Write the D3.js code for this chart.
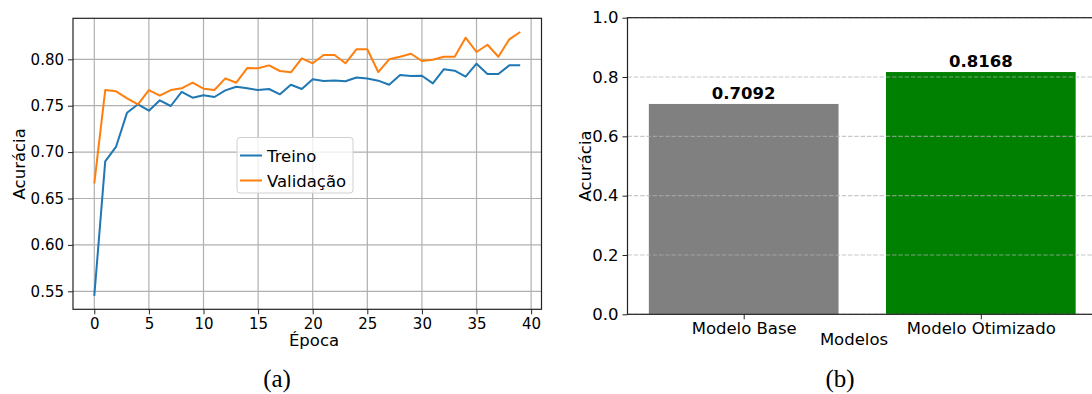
<!DOCTYPE html>
<html>
<head>
<meta charset="utf-8">
<title>Acurácia</title>
<script src="https://cdn.jsdelivr.net/npm/d3@7/dist/d3.min.js"></script>
<style>
  body { margin: 0; background: #fff; }
  svg { display: block; font-family: "DejaVu Sans", sans-serif; }
  .axis path, .axis line { stroke: #222; }
  .axis text { fill: #000; }
  .caption { font-family: "Liberation Serif", "DejaVu Serif", serif; }
</style>
</head>
<body>
<div id="graph"></div>
<script>
// ---- data ----
var epocas = d3.range(0, 40);
var treino = [0.545, 0.690, 0.706, 0.7425, 0.7515, 0.7446, 0.7558, 0.7497, 0.7648, 0.7586,
              0.7612, 0.7594, 0.7665, 0.7705, 0.7687, 0.7669, 0.768, 0.7623, 0.7726, 0.768,
              0.7786, 0.7766, 0.7772, 0.7763, 0.7804, 0.7793, 0.777, 0.7726, 0.7831, 0.782,
              0.7823, 0.7741, 0.7892, 0.7877, 0.7813, 0.7953, 0.7842, 0.7842, 0.7935, 0.7935];
var validacao = [0.6664, 0.7669, 0.7655, 0.758, 0.7515, 0.7669, 0.7608, 0.7669, 0.7687, 0.7748,
                 0.7683, 0.7669, 0.7795, 0.7748, 0.7906, 0.7903, 0.7935, 0.7874, 0.786, 0.8011,
                 0.7957, 0.8046, 0.8046, 0.7957, 0.8108, 0.8108, 0.7863, 0.80, 0.8028, 0.806,
                 0.7982, 0.7996, 0.8028, 0.8028, 0.8233, 0.8079, 0.8157, 0.8028, 0.8215, 0.8294];
var xTicksA = [0, 5, 10, 15, 20, 25, 30, 35, 40];
var yTicksA = [0.55, 0.60, 0.65, 0.70, 0.75, 0.80];

var modelos = ["Modelo Base", "Modelo Otimizado"];
var acuracias = [0.7092, 0.8168];
var cores = ["#808080", "#008000"];
var yTicksB = [0.0, 0.2, 0.4, 0.6, 0.8, 1.0];

var width = 1092, height = 394;

var vis = d3.select("#graph")
  .append("svg")
  .attr("width", width).attr("height", height);

// ================= (a) curves =================
var xa = d3.scaleLinear().domain([-1.95, 40.95]).range([73, 541.5]);
var ya = d3.scaleLinear().domain([0.5306, 0.8442]).range([309.3, 18.3]);

var ga = vis.append("g");

// grid
ga.selectAll("line.vg").data(xTicksA).enter().append("line")
  .attr("x1", function(d) { return xa(d); }).attr("x2", function(d) { return xa(d); })
  .attr("y1", ya.range()[0]).attr("y2", ya.range()[1])
  .attr("stroke", "#b0b0b0").attr("stroke-width", 1.2);
ga.selectAll("line.hg").data(yTicksA).enter().append("line")
  .attr("x1", xa.range()[0]).attr("x2", xa.range()[1])
  .attr("y1", function(d) { return ya(d); }).attr("y2", function(d) { return ya(d); })
  .attr("stroke", "#b0b0b0").attr("stroke-width", 1.2);

var linha = d3.line()
  .x(function(d, i) { return xa(epocas[i]); })
  .y(function(d) { return ya(d); });

ga.append("path").datum(treino)
  .attr("d", linha).attr("fill", "none")
  .attr("stroke", "#1f77b4").attr("stroke-width", 2).attr("stroke-linejoin", "round");
ga.append("path").datum(validacao)
  .attr("d", linha).attr("fill", "none")
  .attr("stroke", "#ff7f0e").attr("stroke-width", 2).attr("stroke-linejoin", "round");

// spines
ga.append("rect")
  .attr("x", xa.range()[0]).attr("y", ya.range()[1])
  .attr("width", xa.range()[1] - xa.range()[0])
  .attr("height", ya.range()[0] - ya.range()[1])
  .attr("fill", "none").attr("stroke", "#222").attr("stroke-width", 1.2);

ga.append("g").attr("class", "axis")
  .attr("transform", "translate(0," + ya.range()[0] + ")")
  .call(d3.axisBottom(xa).tickValues(xTicksA).tickSize(5).tickPadding(4)
    .tickFormat(d3.format("d")))
  .call(function(g) { g.select(".domain").remove(); })
  .selectAll("text").attr("font-size", "15px").attr("font-family", "DejaVu Sans");

ga.append("g").attr("class", "axis")
  .attr("transform", "translate(" + xa.range()[0] + ",0)")
  .call(d3.axisLeft(ya).tickValues(yTicksA).tickSize(5).tickPadding(4)
    .tickFormat(d3.format(".2f")))
  .call(function(g) { g.select(".domain").remove(); })
  .selectAll("text").attr("font-size", "15px").attr("font-family", "DejaVu Sans");

ga.append("text")
  .attr("x", 314).attr("y", 346)
  .attr("text-anchor", "middle").attr("font-size", "16.5px")
  .text("Época");
ga.append("text")
  .attr("transform", "translate(25," + ((ya.range()[0] + ya.range()[1]) / 2) + ") rotate(-90)")
  .attr("text-anchor", "middle").attr("font-size", "16.5px")
  .text("Acurácia");

// legend
var leg = ga.append("g");
leg.append("rect")
  .attr("x", 237).attr("y", 137.5).attr("width", 116).attr("height", 55.5)
  .attr("rx", 3).attr("fill", "#fff").attr("fill-opacity", 0.8)
  .attr("stroke", "#d0d0d0").attr("stroke-width", 1);
[["Treino", "#1f77b4"], ["Validação", "#ff7f0e"]].forEach(function(e, i) {
  var yy = 155.5 + i * 25;
  leg.append("line")
    .attr("x1", 240).attr("x2", 262).attr("y1", yy).attr("y2", yy)
    .attr("stroke", e[1]).attr("stroke-width", 2);
  leg.append("text")
    .attr("x", 267).attr("y", yy + 6)
    .attr("font-size", "16.5px").text(e[0]);
});

vis.append("text").attr("class", "caption")
  .attr("x", 277).attr("y", 387).attr("text-anchor", "middle")
  .attr("font-size", "25px").text("(a)");

// ================= (b) bars =================
var xb = d3.scaleLinear().domain([-0.49, 1.49]).range([627.5, 1097]);
var yb = d3.scaleLinear().domain([0, 1]).range([314.3, 17.7]);

var gb = vis.append("g");

gb.selectAll("rect.bar").data(acuracias).enter().append("rect")
  .attr("x", function(d, i) { return xb(i - 0.4); })
  .attr("width", function(d, i) { return xb(i + 0.4) - xb(i - 0.4); })
  .attr("y", function(d) { return yb(d); })
  .attr("height", function(d) { return yb(0) - yb(d); })
  .attr("fill", function(d, i) { return cores[i]; });

gb.selectAll("line.hg").data(yTicksB).enter().append("line")
  .attr("x1", xb.range()[0]).attr("x2", xb.range()[1])
  .attr("y1", function(d) { return yb(d); }).attr("y2", function(d) { return yb(d); })
  .attr("stroke", "#b0b0b0").attr("stroke-opacity", 0.7).attr("stroke-width", 1.2)
  .attr("stroke-dasharray", "4.4,1.9");

gb.selectAll("text.val").data(acuracias).enter().append("text")
  .attr("x", function(d, i) { return xb(i); })
  .attr("y", function(d) { return yb(d) - 5; })
  .attr("text-anchor", "middle").attr("font-weight", "bold").attr("font-size", "16.5px")
  .text(function(d) { return d.toFixed(4); });

gb.append("rect")
  .attr("x", xb.range()[0]).attr("y", yb.range()[1])
  .attr("width", xb.range()[1] - xb.range()[0])
  .attr("height", yb.range()[0] - yb.range()[1])
  .attr("fill", "none").attr("stroke", "#222").attr("stroke-width", 1.2);

gb.append("g").attr("class", "axis")
  .attr("transform", "translate(0," + yb.range()[0] + ")")
  .call(d3.axisBottom(xb).tickValues([0, 1]).tickSize(5).tickPadding(3)
    .tickFormat(function(d) { return modelos[d]; }))
  .call(function(g) { g.select(".domain").remove(); })
  .selectAll("text").attr("font-size", "16.5px").attr("font-family", "DejaVu Sans");

gb.append("g").attr("class", "axis")
  .attr("transform", "translate(" + xb.range()[0] + ",0)")
  .call(d3.axisLeft(yb).tickValues(yTicksB).tickSize(5).tickPadding(4)
    .tickFormat(d3.format(".1f")))
  .call(function(g) { g.select(".domain").remove(); })
  .selectAll("text").attr("font-size", "16.5px").attr("font-family", "DejaVu Sans");

gb.append("text")
  .attr("x", 854).attr("y", 345)
  .attr("text-anchor", "middle").attr("font-size", "16.5px")
  .text("Modelos");
gb.append("text")
  .attr("transform", "translate(591," + ((yb.range()[0] + yb.range()[1]) / 2) + ") rotate(-90)")
  .attr("text-anchor", "middle").attr("font-size", "16.5px")
  .text("Acurácia");

vis.append("text").attr("class", "caption")
  .attr("x", 840).attr("y", 387).attr("text-anchor", "middle")
  .attr("font-size", "25px").text("(b)");
</script>
</body>
</html>
